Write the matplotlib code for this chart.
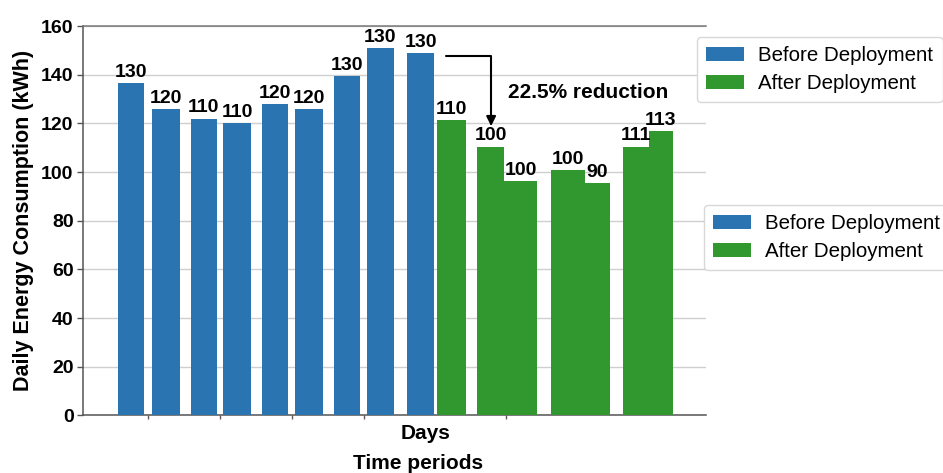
import matplotlib
matplotlib.use('Agg')
from matplotlib import pyplot as plt

# values (bar height) and the number printed above each bar
before_heights = [136.5, 126, 122, 120, 128, 126, 139.5, 151, 149]
before_labels = [130, 120, 110, 110, 120, 120, 130, 130, 130]
after_heights = [121.5, 110.5, 96.5, 101, 95.5, 110.5, 117]
after_labels = [110, 100, 100, 100, 90, 111, 113]
yticks = [0, 20, 40, 60, 80, 100, 120, 140, 160]

# layout: left edge and width of every bar (axis runs 0..17.3)
before_left = [0.97, 1.92, 2.98, 3.89, 4.96, 5.89, 6.96, 7.87, 9.0]
before_width = [0.72, 0.77, 0.73, 0.77, 0.73, 0.77, 0.73, 0.77, 0.75]
after_left = [9.84, 10.94, 11.69, 12.99, 13.94, 14.99, 15.71]
after_width = [0.78, 0.75, 0.92, 0.94, 0.69, 0.72, 0.67]

BLUE = '#2a74b2'
GREEN = '#31982f'

plt.rcParams['font.family'] = ['Liberation Sans', 'DejaVu Sans']

fig = plt.figure(figsize=(9.43, 4.73), dpi=100)
ax = fig.add_axes([0.0883, 0.1216, 0.6604, 0.8234])

b1 = ax.bar(before_left, before_heights, width=before_width, align='edge',
            color=BLUE, zorder=3, label='Before Deployment')
b2 = ax.bar(after_left, after_heights, width=after_width, align='edge',
            color=GREEN, zorder=3, label='After Deployment')

for bars, labels in ((b1, before_labels), (b2, after_labels)):
    for rect, lab in zip(bars, labels):
        ax.annotate(str(lab), (rect.get_x() + rect.get_width() / 2, rect.get_height()),
                    xytext=(0, 1.5), textcoords='offset points', ha='center', va='bottom',
                    fontsize=14, fontweight='bold', zorder=4)

ax.set_xlim(0, 17.3)
ax.set_ylim(0, 160)
ax.set_yticks(yticks)
ax.tick_params(axis='y', labelsize=14, length=4, width=1, color='#555555', pad=3)
for t in ax.get_yticklabels():
    t.set_fontweight('bold')

ax.set_xticks([1.8, 3.8, 5.8, 7.8, 9.5, 11.75])
ax.set_xticklabels(['', '', '', '', 'Days', ''])
ax.tick_params(axis='x', labelsize=15, length=3, width=1, color='#6a5a55', pad=3)
for t in ax.get_xticklabels():
    t.set_fontweight('bold')
ax.xaxis.get_major_ticks()[4].tick1line.set_visible(False)

ax.grid(axis='y', color='#cfcfcf', linewidth=1, zorder=0)
ax.spines['right'].set_visible(False)
ax.spines['top'].set_color('#777777')
ax.spines['left'].set_color('#555555')
ax.spines['bottom'].set_color('#555555')
for s in ('left', 'bottom', 'top'):
    ax.spines[s].set_linewidth(1.1)

ax.set_ylabel('Daily Energy Consumption (kWh)', fontsize=15.5, fontweight='bold', labelpad=5)
fig.text(418 / 943, 1 - 463 / 473, 'Time periods', fontsize=15, fontweight='bold',
         ha='center', va='center')

# reduction callout
ax.annotate('', xy=(11.33, 118.9), xytext=(10.07, 147.7),
            arrowprops=dict(arrowstyle='-|>', color='black', lw=1.5, mutation_scale=14,
                            connectionstyle='angle,angleA=0,angleB=90,rad=0',
                            shrinkA=0, shrinkB=0))
ax.text(11.8, 132.5, '22.5% reduction', fontsize=15, fontweight='bold', ha='left', va='center')

leg_kw = dict(loc='upper left', bbox_transform=fig.transFigure, borderaxespad=0,
              fontsize=14.8, handlelength=1.85, handleheight=0.65, handletextpad=0.68,
              borderpad=0.45, labelspacing=0.42, frameon=True, fancybox=True,
              edgecolor='#d8d8d8', framealpha=1)
leg1 = ax.legend(handles=[b1, b2], bbox_to_anchor=(697 / 943, 1 - 37 / 473), **leg_kw)
ax.add_artist(leg1)
ax.legend(handles=[b1, b2], bbox_to_anchor=(704 / 943, 1 - 205 / 473), **leg_kw)

fig.savefig('out.png', dpi=100)
